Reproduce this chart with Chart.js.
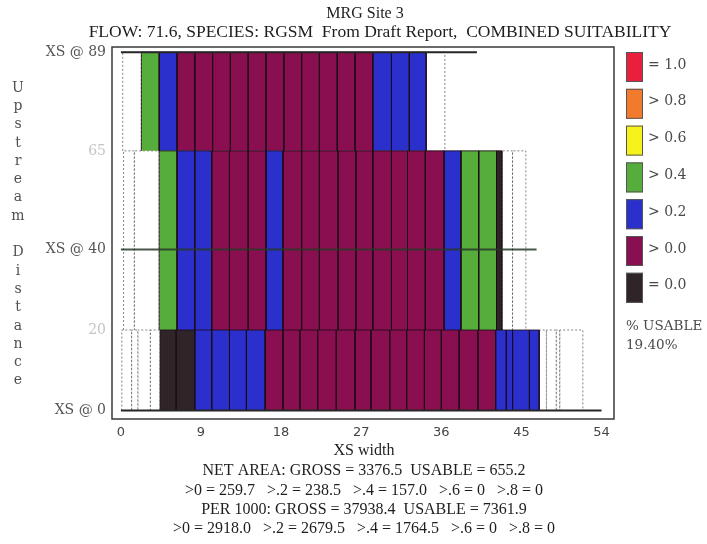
<!DOCTYPE html>
<html>
<head>
<meta charset="utf-8">
<script src="https://cdn.jsdelivr.net/npm/chart.js@4.4.1/dist/chart.umd.min.js"></script>
<style>
  html, body { margin: 0; padding: 0; background: #ffffff; }
  #wrap { position: relative; width: 707px; height: 544px; }
</style>
</head>
<body>
<div id="wrap"><canvas id="chart" width="707" height="544"></canvas></div>
<script>
// ---- Chart text ----
const chartTitle = 'MRG Site 3';
const chartSubtitle = 'FLOW: 71.6, SPECIES: RGSM  From Draft Report,  COMBINED SUITABILITY';
const xAxisTitle = 'XS width';
const yAxisTitle = 'Upstream Distance';
const statLines = [
  'NET AREA: GROSS = 3376.5  USABLE = 655.2',
  '>0 = 259.7   >.2 = 238.5   >.4 = 157.0   >.6 = 0   >.8 = 0',
  'PER 1000: GROSS = 37938.4  USABLE = 7361.9',
  '>0 = 2918.0   >.2 = 2679.5   >.4 = 1764.5   >.6 = 0   >.8 = 0'
];
const usableLabel = '% USABLE';
const usableValue = '19.40%';

// ---- Suitability classes (legend order, top to bottom) ----
const classLabels = ['= 1.0', '> 0.8', '> 0.6', '> 0.4', '> 0.2', '> 0.0', '= 0.0'];
const classColors = ['#e8203e', '#f27a2c', '#f5f21c', '#56ad3c', '#2b30cc', '#8a0f50', '#2f2428'];
// cell codes below index classLabels; -1 marks a dry cell

// ---- Axes ----
const xTickValues = [0, 9, 18, 27, 36, 45, 54];
const yTickValues = [0, 20, 40, 64.5, 89];
const yTickLabels = ['XS @ 0', '20', 'XS @ 40', '65', 'XS @ 89'];

// ---- Cross sections: station, wetted width, band covered upstream distance ----
const xsStations = [0, 40, 89];
const xsWidths = [54, 46.7, 40];
const bandLow = [0, 20, 64.5];
const bandHigh = [20, 64.5, 89];

// XS @ 0 cells
const xs0Edges = [0.1, 1.2, 1.9, 3.3, 4.4, 6.2, 8.3, 10.2, 12.2, 14.1, 16.2, 18.2, 20.1, 22.1, 24.2, 26.3,
  28.1, 30.2, 32.1, 34.1, 36.0, 38.0, 40.1, 42.1, 43.3, 44.0, 45.9, 47.0, 47.8, 48.9, 49.3, 51.9];
const xs0Classes = [-1, -1, -1, -1, 6, 6, 4, 4, 4, 4, 5, 5, 5, 5, 5, 5, 5, 5, 5, 5, 5, 5, 5,
  4, 4, 4, 4, -1, -1, -1, -1];

// XS @ 40 cells
const xs40Edges = [0.3, 1.5, 4.3, 6.3, 8.3, 10.2, 12.2, 14.3, 16.3, 18.2, 20.3, 22.3, 24.4, 26.4, 28.3,
  30.4, 32.2, 34.2, 36.3, 38.2, 40.2, 42.2, 42.8, 44.0, 45.5];
const xs40Classes = [-1, -1, 3, 4, 4, 5, 5, 5, 4, 5, 5, 5, 5, 5, 5, 5, 5, 5, 4, 3, 3, 6, -1, -1];

// XS @ 89 cells
const xs89Edges = [0.2, 2.3, 4.3, 6.3, 8.3, 10.3, 12.3, 14.3, 16.3, 18.3, 20.3, 22.3, 24.3, 26.3, 28.3,
  30.4, 32.4, 34.3, 36.4];
const xs89Classes = [-1, 3, 4, 5, 5, 5, 5, 5, 5, 5, 5, 5, 5, 5, 4, 4, 4, -1];

const rowEdges = [xs0Edges, xs40Edges, xs89Edges];
const rowClasses = [xs0Classes, xs40Classes, xs89Classes];

// ---- Build datasets: every cell is a closed outline filled down to its band floor ----
const datasets = [];
rowEdges.forEach((edges, r) => {
  const lo = bandLow[r], hi = bandHigh[r];
  rowClasses[r].forEach((cls, i) => {
    const dry = cls < 0;
    datasets.push({
      type: 'line',
      data: [{ x: edges[i], y: lo }, { x: edges[i], y: hi }, { x: edges[i + 1], y: hi }, { x: edges[i + 1], y: lo }],
      fill: { value: lo },
      backgroundColor: dry ? '#ffffff' : classColors[cls],
      borderColor: dry ? 'rgba(80,80,80,0.7)' : 'rgba(28,12,24,0.85)',
      borderWidth: 1,
      borderDash: dry ? [2, 2] : [],
      pointRadius: 0,
      tension: 0,
      order: dry ? 3 : 2
    });
  });
});
// cross-section lines
xsStations.forEach((st, k) => {
  datasets.push({
    type: 'line',
    data: [{ x: 0, y: st }, { x: xsWidths[k], y: st }],
    fill: false,
    borderColor: k === 1 ? 'rgba(40,56,40,0.85)' : '#262626',
    borderWidth: 2,
    pointRadius: 0,
    order: 0
  });
});

// ---- Frame, titles, legend and summary text ----
const decorPlugin = {
  id: 'decor',
  afterDraw(chart) {
    const { ctx, chartArea: a } = chart;
    ctx.save();
    // plot frame
    ctx.strokeStyle = '#3a3a3a';
    ctx.lineWidth = 1.5;
    ctx.strokeRect(a.left, a.top, a.right - a.left, a.bottom - a.top);

    // titles
    ctx.fillStyle = '#1e1e1e';
    ctx.textAlign = 'center';
    ctx.textBaseline = 'middle';
    ctx.font = '16px "Liberation Serif"';
    ctx.fillText(chartTitle, 365, 14);
    ctx.font = '17.5px "Liberation Serif"';
    ctx.fillText(chartSubtitle, 380, 32);

    // x axis title and summary lines
    const cx = (a.left + a.right) / 2 + 1;
    ctx.font = '16px "Liberation Serif"';
    ctx.fillText(xAxisTitle, cx, 451);
    statLines.forEach((s, i) => ctx.fillText(s, cx, 471 + i * 19.3));

    // vertical y axis title, one letter per line
    ctx.fillStyle = '#505050';
    ctx.font = '14px "DejaVu Serif"';
    [...yAxisTitle].forEach((ch, i) => ctx.fillText(ch, 18, 88 + i * 18.3));

    // legend
    ctx.textAlign = 'left';
    ctx.font = '14px "DejaVu Serif"';
    classLabels.forEach((lab, i) => {
      const y = 52 + i * 36.8;
      ctx.fillStyle = classColors[i];
      ctx.fillRect(626, y, 17, 30);
      ctx.strokeStyle = '#555';
      ctx.lineWidth = 1;
      ctx.strokeRect(626.5, y + 0.5, 16, 29);
      ctx.fillStyle = '#4a4a4a';
      ctx.fillText(lab, 648, y + 13);
    });
    ctx.font = '13.5px "DejaVu Serif"';
    ctx.fillText(usableLabel, 626, 326);
    ctx.fillText(usableValue, 626, 345);
    ctx.restore();
  }
};

new Chart(document.getElementById('chart'), {
  type: 'line',
  data: { datasets },
  plugins: [decorPlugin],
  options: {
    responsive: false,
    animation: false,
    layout: { padding: { left: 0, top: 47, right: 93, bottom: 0 } },
    plugins: { legend: { display: false }, tooltip: { enabled: false } },
    elements: { line: { borderJoinStyle: 'miter' } },
    scales: {
      x: {
        type: 'linear',
        min: -1,
        max: 55.4,
        afterBuildTicks: s => { s.ticks = xTickValues.map(v => ({ value: v })); },
        afterFit: s => { s.height = 125; },
        grid: { display: false, drawTicks: false },
        border: { display: false },
        ticks: {
          autoSkip: false, maxRotation: 0, padding: 6, color: '#444',
          font: { family: 'DejaVu Sans', size: 13 },
          callback: v => String(v)
        }
      },
      y: {
        type: 'linear',
        min: -2.1,
        max: 90.3,
        afterBuildTicks: s => { s.ticks = yTickValues.map(v => ({ value: v })); },
        afterFit: s => { s.width = 112; },
        grid: { display: false, drawTicks: false },
        border: { display: false },
        ticks: {
          autoSkip: false, padding: 6,
          font: { family: 'DejaVu Serif', size: 14 },
          color: c => (yTickLabels[yTickValues.indexOf(c.tick.value)] || '').startsWith('XS') ? '#555' : '#c4c4c4',
          callback: v => yTickLabels[yTickValues.indexOf(v)]
        }
      }
    }
  }
});
</script>
</body>
</html>
